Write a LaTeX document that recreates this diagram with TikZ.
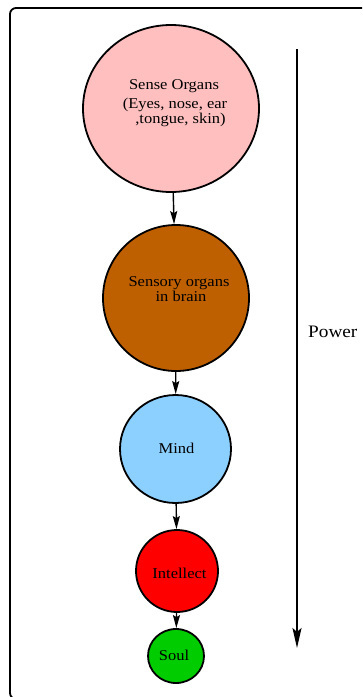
\documentclass[tikz,border=0pt]{standalone}
\usepackage{fontspec}
\setmainfont{Liberation Serif}[FakeStretch=1.1]
\usetikzlibrary{shapes.geometric,arrows.meta}
\definecolor{cpink}{RGB}{255,191,191}
\definecolor{cbrown}{RGB}{191,96,0}
\definecolor{cblue}{RGB}{140,208,255}
\definecolor{cred}{RGB}{255,0,0}
\definecolor{cgreen}{RGB}{0,204,0}
\begin{document}
\begin{tikzpicture}[x=1pt,y=-1pt,
  blob/.style={ellipse, draw=black, line width=1.8pt, inner sep=0pt},
  txt/.style={anchor=base, inner sep=0pt, font=\fontsize{15}{18}\selectfont},
  arr/.style={line width=1.4pt, -{Stealth[length=13pt,width=7pt,inset=2pt]}}]
\useasboundingbox (0,0) rectangle (362,697);
\clip (0,0) rectangle (362,697);
\fill[white] (0,0) rectangle (362,697);
\draw[line width=1.8pt, rounded corners=6pt] (10,8) rectangle (380,699);
\node[blob, fill=cpink, minimum width=176pt, minimum height=167pt] (c1) at (171,108.5) {};
\node[blob, fill=cbrown, minimum width=146pt, minimum height=146pt] (c2) at (176,298) {};
\node[blob, fill=cblue, minimum width=111pt, minimum height=108pt] (c3) at (175.5,449) {};
\node[blob, fill=cred, minimum width=82pt, minimum height=82pt] (c4) at (177,571) {};
\node[blob, fill=cgreen, minimum width=56pt, minimum height=54pt] (c5) at (176,656) {};
\node[txt] (t1a) at (174,89) {Sense Organs};
\node[txt] (t1b) at (175,108) {(Eyes, nose, ear};
\node[txt] (t1c) at (180.5,123) {,tongue, skin)};
\node[txt] (t2a) at (179,286) {Sensory organs};
\node[txt] (t2b) at (181,301) {in brain};
\node[txt] (t3) at (176.5,453) {Mind};
\node[txt] (t4) at (179.5,578) {Intellect};
\node[txt] (t5) at (174,660) {Soul};
\draw[arr] (c1) -- (c2);
\draw[arr] (c2) -- (c3);
\draw[arr] (c3) -- (c4);
\draw[arr] (c4) -- (c5);
\coordinate (ps) at (297,49);
\coordinate (pe) at (297,648);
\draw[line width=2pt, -{Stealth[length=20pt,width=9pt,inset=4pt]}] (ps) -- (pe);
\node[anchor=base west, inner sep=0pt, font=\fontsize{17.5}{20}\selectfont] (pw) at (308,337) {Power};
\end{tikzpicture}
\end{document}
